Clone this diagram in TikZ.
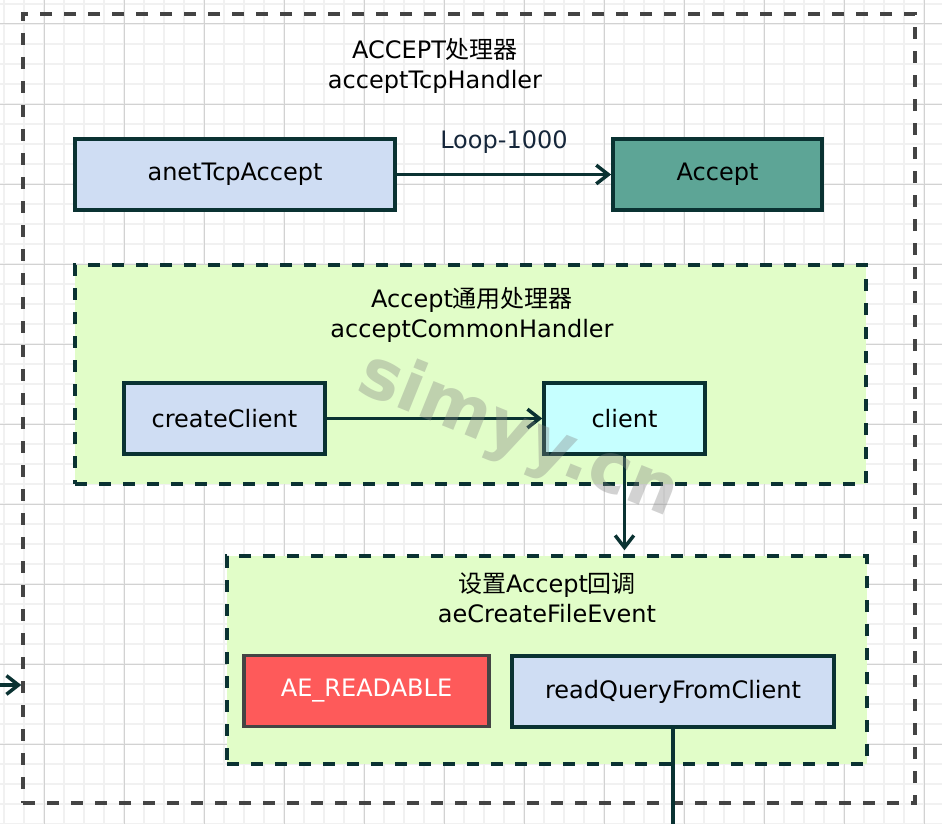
\documentclass[tikz,border=0pt]{standalone}
\usepackage{fontspec}
\setmainfont{DejaVu Sans}
\newfontfamily\cjk{Noto Sans CJK SC}
\usetikzlibrary{arrows.meta}

\definecolor{edgeteal}{HTML}{0A3232}
\definecolor{framegray}{HTML}{444444}
\definecolor{funcblue}{HTML}{CFDDF3}
\definecolor{acceptgreen}{HTML}{5DA596}
\definecolor{clientcyan}{HTML}{C6FFFF}
\definecolor{groupgreen}{HTML}{E1FDC8}
\definecolor{flagred}{HTML}{FE5A5A}
\definecolor{labelnavy}{HTML}{15263A}
\definecolor{gridminor}{HTML}{F1F1F1}
\definecolor{gridmajor}{HTML}{D2D2D2}

\tikzset{
  box/.style={draw=edgeteal, line width=2.6pt, minimum height=53pt, inner sep=0pt},
  funcbox/.style={box, fill=funcblue},
  group/.style={draw=edgeteal, line width=2.6pt, dash pattern=on 9pt off 9pt, fill=groupgreen, inner sep=0pt},
  arr/.style={draw=edgeteal, line width=2.6pt, -{Straight Barb[length=9pt,width=14pt,line width=2.6pt]}},
  conn/.style={draw=edgeteal, line width=2.6pt},
}

\begin{document}
\begin{tikzpicture}[x=0.75pt, y=-0.75pt, font=\fontsize{18}{22.5}\selectfont]
  \useasboundingbox (0,0) rectangle (942,824);
  \fill[white] (0,0) rectangle (942,824);
  % grid
  \foreach \i in {0,...,47}
    \draw[gridminor, line width=1.2pt] ({4+20*\i},0) -- ({4+20*\i},824);
  \foreach \i in {0,...,41}
    \draw[gridminor, line width=1.2pt] (0,{4+20*\i}) -- (942,{4+20*\i});
  \foreach \i in {0,...,11}
    \draw[gridmajor, line width=0.75pt] ({44+80*\i},0) -- ({44+80*\i},824);
  \foreach \i in {0,...,10}
    \draw[gridmajor, line width=0.75pt] (0,{24+80*\i}) -- (942,{24+80*\i});

  % outer handler frame
  \node[draw=framegray, line width=2.6pt, dash pattern=on 9pt off 9pt, minimum width=669pt, minimum height=591.75pt] (frame) at (469,408.5) {};
  \node[align=center] (ttl) at (435,66) {ACCEPT{\cjk 处理器}\\acceptTcpHandler};

  \node[funcbox, minimum width=240pt] (anet) at (235,174.5) {anetTcpAccept};
  \node[box, fill=acceptgreen, minimum width=157pt] (accept) at (717.5,174.5) {Accept};

  % common handler
  \node[group, minimum width=593.25pt, minimum height=164.25pt] (common) at (470.5,374.5) {};
  \node[align=center] (commonttl) at (472,315) {Accept{\cjk 通用处理器}\\acceptCommonHandler};
  \node[funcbox, minimum width=150.75pt] (create) at (224.5,418.5) {createClient};
  \node[box, fill=clientcyan, minimum width=120.75pt] (client) at (624.5,418.5) {client};

  % file event
  \node[group, minimum width=480pt, minimum height=156pt] (event) at (547,660) {};
  \node[align=center] (eventttl) at (547,598) {{\cjk 设置}Accept{\cjk 回调}\\aeCreateFileEvent};
  \node[box, draw=framegray, fill=flagred, text=white, minimum width=183.75pt] (readable) at (366.5,691) {AE\_READABLE};
  \node[funcbox, minimum width=241.5pt] (rq) at (673,691.5) {readQueryFromClient};

  \coordinate (in) at (0,685);
  \coordinate (out) at (673,824);

  \draw[arr] (anet) -- node[above=11pt, text=labelnavy] (loop) {Loop-1000} (accept);
  \draw[arr] (create) -- (client);
  \draw[arr, shorten >=3pt] (client.south) -- (client.south |- event.north);
  \draw[arr] (in) -- (in -| frame.west);
  \draw[conn] (rq.south) -- (out);

  % watermark
  \node[rotate=-22, text=gray, opacity=0.35, font=\bfseries\fontsize{52}{56}\selectfont] (mark) at (518,436) {simyy.cn};
\end{tikzpicture}
\end{document}
